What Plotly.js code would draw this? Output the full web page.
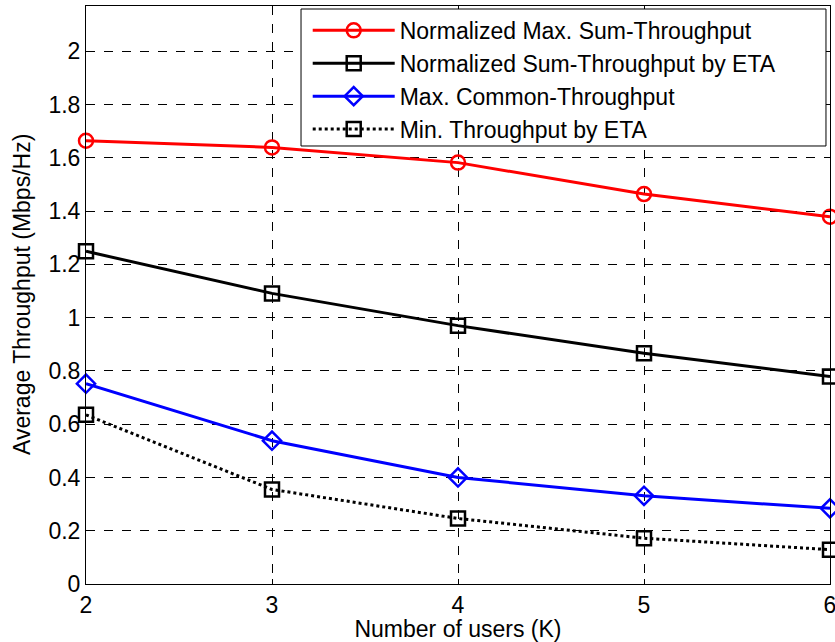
<!DOCTYPE html>
<html><head><meta charset="utf-8">
<script src="https://cdn.plot.ly/plotly-3.0.1.min.js"></script>
<style>body{margin:0;background:#fff}#g{width:835px;height:642px}</style>
</head><body><div id="g"></div>
<script>
const users = [2, 3, 4, 5, 6];
const maxSum = [1.664, 1.639, 1.582, 1.464, 1.379];
const sumETA = [1.249, 1.091, 0.970, 0.866, 0.779];
const maxCommon = [0.752, 0.538, 0.400, 0.331, 0.284];
const minETA = [0.635, 0.355, 0.246, 0.172, 0.129];
const names = ["Normalized Max. Sum-Throughput","Normalized Sum-Throughput by ETA","Max. Common-Throughput","Min. Throughput by ETA"];
const xTicks = ['2','3','4','5','6'];
const yVals = [0,0.2,0.4,0.6,0.8,1,1.2,1.4,1.6,1.8,2];
const yTicks = ['0','0.2','0.4','0.6','0.8','1','1.2','1.4','1.6','1.8','2'];
const xTitle = 'Number of users (K)';
const yTitle = 'Average Throughput (Mbps/Hz)';
const FONT = '"Liberation Sans", Arial, sans-serif';

const mk = (y, name, color, symbol, dash, g) => ({
  x: users, y: y, name: name, type: 'scatter', mode: 'lines+markers', legendgroup: g,
  line: {color: color, width: 3, dash: dash},
  marker: {symbol: symbol, size: 14, color: color, line: {color: color, width: 2.5}},
  cliponaxis: false
});
const data = [
  mk(maxSum, names[0], '#ff0000', 'circle-open', 'solid', 'a'),
  mk(sumETA, names[1], '#000000', 'square-open', 'solid', 'b'),
  mk(maxCommon, names[2], '#0000ff', 'diamond-open', 'solid', 'c'),
  mk(minETA, names[3], '#000000', 'square-open', 'dot', 'd')
];
const layout = {
  width: 835, height: 642,
  margin: {l: 86, r: 5, t: 6, b: 58},
  paper_bgcolor: '#fff', plot_bgcolor: '#fff',
  font: {family: FONT, color: '#000', size: 23},
  xaxis: {range: [2, 6], tickmode: 'array', tickvals: users, ticktext: xTicks,
    showline: true, linecolor: '#000', linewidth: 1, mirror: 'ticks',
    ticks: 'inside', ticklen: 5, tickcolor: '#000',
    showgrid: true, gridcolor: '#000', gridwidth: 1, griddash: 'dash', zeroline: false,
    tickfont: {family: FONT, size: 23, color: '#000'}, ticklabeloverflow: 'allow',
    title: {text: xTitle, font: {size: 23, family: FONT}, standoff: 1}},
  yaxis: {range: [0, 2.17], tickmode: 'array', tickvals: yVals, ticktext: yTicks,
    showline: true, linecolor: '#000', linewidth: 1, mirror: 'ticks',
    ticks: 'inside', ticklen: 5, tickcolor: '#000',
    showgrid: true, gridcolor: '#000', gridwidth: 1, griddash: 'dash', zeroline: false,
    tickfont: {family: FONT, size: 23, color: '#000'}, ticklabeloverflow: 'allow'},
  annotations: [{text: yTitle, xref: 'paper', yref: 'paper', x: -0.086, y: 0.5,
    xanchor: 'center', yanchor: 'middle', textangle: -90, showarrow: false,
    font: {size: 23, family: FONT, color: '#000'}}],
  shapes: [{type: 'rect', xref: 'paper', yref: 'paper', layer: 'above',
    x0: 0.289, x1: 0.9946, y0: 0.7578, y1: 0.9948,
    fillcolor: '#fff', line: {color: '#000', width: 1}}],
  showlegend: true,
  legend: {x: 0.298, y: 0.995, xanchor: 'left', yanchor: 'top', bgcolor: 'rgba(0,0,0,0)',
    borderwidth: 0, font: {size: 23, family: FONT},
    itemwidth: 82, tracegroupgap: 0}
};
Plotly.newPlot('g', data, layout, {displayModeBar: false});
</script></body></html>
